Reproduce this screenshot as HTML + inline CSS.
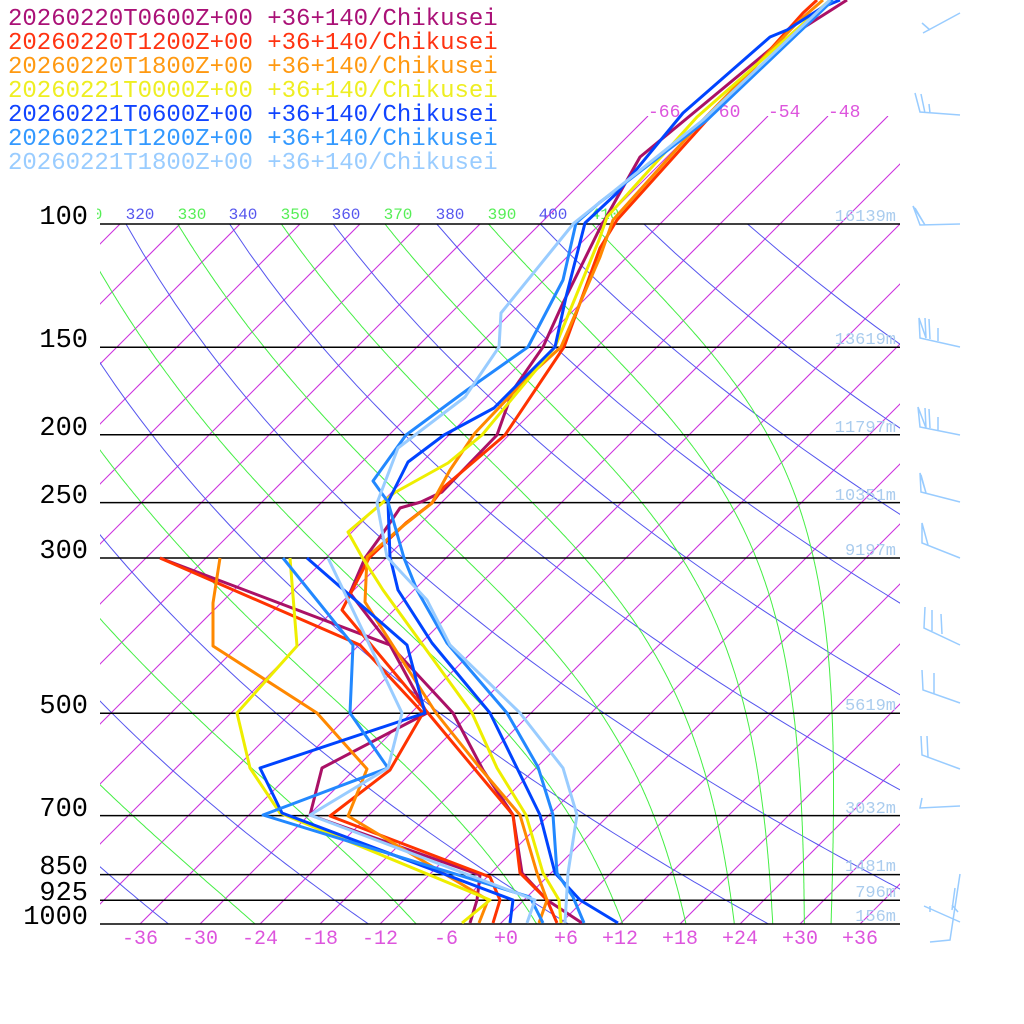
<!DOCTYPE html>
<html><head><meta charset="utf-8">
<style>
html,body{margin:0;padding:0;background:#fff;}
svg{display:block;}
text{font-family:"Liberation Mono","DejaVu Sans Mono",monospace;}
</style></head>
<body>
<svg id="s" width="1024" height="1024" viewBox="0 0 1024 1024" xmlns="http://www.w3.org/2000/svg">
<defs>
<clipPath id="cpl"><rect x="100" y="224" width="800" height="700"/></clipPath>
<clipPath id="cpi"><rect x="100" y="116" width="800" height="808"/></clipPath>
<clipPath id="cplab"><rect x="97" y="190" width="803" height="34"/></clipPath>
</defs>
<g id="grid"></g>
<g font-size="17" fill="#aaccee" text-anchor="end">
<text x="896" y="221">16139m</text>
<text x="896" y="344">13619m</text>
<text x="896" y="432">11797m</text>
<text x="896" y="500">10351m</text>
<text x="896" y="555">9197m</text>
<text x="896" y="710">5619m</text>
<text x="896" y="813">3032m</text>
<text x="896" y="871">1481m</text>
<text x="896" y="897">796m</text>
<text x="896" y="921">156m</text>
</g>
<g id="plines" stroke="#000" stroke-width="1.5"></g>
<g font-size="27" fill="#000" text-anchor="end">
<text x="88" y="224">100</text>
<text x="88" y="347">150</text>
<text x="88" y="435">200</text>
<text x="88" y="503">250</text>
<text x="88" y="558">300</text>
<text x="88" y="713">500</text>
<text x="88" y="816">700</text>
<text x="88" y="874">850</text>
<text x="88" y="900">925</text>
<text x="88" y="924">1000</text>
</g>
<g font-size="20" fill="#dd55dd" text-anchor="end">
<text x="158" y="944">-36</text><text x="218" y="944">-30</text><text x="278" y="944">-24</text>
<text x="338" y="944">-18</text><text x="398" y="944">-12</text><text x="458" y="944">-6</text>
<text x="518" y="944">+0</text><text x="578" y="944">+6</text><text x="638" y="944">+12</text>
<text x="698" y="944">+18</text><text x="758" y="944">+24</text><text x="818" y="944">+30</text>
<text x="878" y="944">+36</text>
</g>
<g font-size="18" fill="#dd55dd">
<text x="648" y="117">-66</text><text x="708" y="117">-60</text><text x="768" y="117">-54</text><text x="828" y="117">-48</text>
</g>
<g font-size="16" text-anchor="middle" clip-path="url(#cplab)">
<text x="88" y="219" fill="#55ee55">310</text>
<text x="140" y="219" fill="#5555ee">320</text>
<text x="192" y="219" fill="#55ee55">330</text>
<text x="243" y="219" fill="#5555ee">340</text>
<text x="295" y="219" fill="#55ee55">350</text>
<text x="346" y="219" fill="#5555ee">360</text>
<text x="398" y="219" fill="#55ee55">370</text>
<text x="450" y="219" fill="#5555ee">380</text>
<text x="502" y="219" fill="#55ee55">390</text>
<text x="553" y="219" fill="#5555ee">400</text>
<text x="605" y="219" fill="#55ee55">410</text>
</g>
<g id="series" fill="none" stroke-width="3" stroke-linejoin="round"></g>
<g stroke="#99ccff" stroke-width="1.5" fill="none">
<path d="M960,13 L923,33 M922,23 L930,30"/>
<path d="M960,115 L920,112 L915,93 M925,113 L921,94 M930,113 L929,104"/>
<path d="M960,224 L920,225 L913,206 L925,225 M925,225 L915,208"/>
<path d="M960,347 L920,338 L919,318 L926,338 L925,318 M930,339 L929,319 M938,341 L938,328"/>
<path d="M960,435 L920,427 L918,407 L926,428 L925,408 M930,428 L929,409 M938,430 L938,417"/>
<path d="M960,502 L921,492 L920,473 L926,493 M926,493 L921,475"/>
<path d="M960,558 L922,543 L922,523 L928,545"/>
<path d="M960,645 L924,628 L925,607 M932,631 L932,610 M942,634 L941,614"/>
<path d="M960,703 L923,690 L922,670 M934,694 L934,673"/>
<path d="M960,769 L922,755 L921,736 M928,757 L927,736"/>
<path d="M960,806 L920,808 L922,798"/>
<path d="M960,874 L950,940 L930,942 M924,906 L960,922 M930,906 L930,912 M955,888 L952,910 M952,905 L958,912"/>
</g>
<g font-size="24">
<text x="8" y="25" fill="#aa1177">20260220T0600Z+00 +36+140/Chikusei</text>
<text x="8" y="49" fill="#ff3311">20260220T1200Z+00 +36+140/Chikusei</text>
<text x="8" y="73" fill="#ff9911">20260220T1800Z+00 +36+140/Chikusei</text>
<text x="8" y="97" fill="#eeee22">20260221T0000Z+00 +36+140/Chikusei</text>
<text x="8" y="121" fill="#1144ff">20260221T0600Z+00 +36+140/Chikusei</text>
<text x="8" y="145" fill="#3399ff">20260221T1200Z+00 +36+140/Chikusei</text>
<text x="8" y="169" fill="#99ccff">20260221T1800Z+00 +36+140/Chikusei</text>
</g>
</svg>
<script>
(function(){
var NS="http://www.w3.org/2000/svg";
function Y(p){return 924-304*Math.log(1000/p);}
function X(T,p){return 500+10*T+(924-Y(p));}
function el(parent,name,attrs){var e=document.createElementNS(NS,name);for(var k in attrs)e.setAttribute(k,attrs[k]);parent.appendChild(e);return e;}
var grid=document.getElementById('grid');
var gi=el(grid,'g',{stroke:'#cc33dd','stroke-width':'1.1',fill:'none'});
for(var T=-150;T<=60;T+=6){
  var yTop=(T>=-66)?116:224;
  var x1=500+10*T, y1=924, x2=x1+(924-yTop), y2=yTop;
  el(gi,'line',{x1:x1,y1:y1,x2:x2,y2:y2,'clip-path':'url(#cpi)'});
}
var gd=el(grid,'g',{stroke:'#5555ee','stroke-width':'1',fill:'none','clip-path':'url(#cpl)'});
for(var th=200;th<=440;th+=20){
  var pts=[];for(var p=100;p<=1000.01;p+=10){var t=th*Math.pow(p/1000,0.2857)-273.15;pts.push(X(t,p).toFixed(1)+','+Y(p).toFixed(1));}
  el(gd,'polyline',{points:pts.join(' ')});
}
var gm=el(grid,'g',{stroke:'#44ee44','stroke-width':'1',fill:'none','clip-path':'url(#cpl)'});
function es(tc){return 6.112*Math.exp(17.67*tc/(tc+243.5));}
for(var th=230;th<=410;th+=20){
  var lp=Math.log(100), T=th*Math.pow(0.1,0.2857), pts=[];
  var step=0.005;
  while(true){
    var p=Math.exp(lp);
    pts.push(X(T-273.15,p).toFixed(1)+','+Y(p).toFixed(1));
    if(p>=999.9)break;
    var e=es(T-273.15), rs=0.622*e/(p-e);
    var d=(287*T+2.5e6*rs)/(1004+2.5e6*2.5e6*rs*0.622/(287*T*T));
    var nl=Math.min(lp+step,Math.log(1000));
    T+=d*(nl-lp);lp=nl;
  }
  el(gm,'polyline',{points:pts.join(' ')});
}
var pl=document.getElementById('plines');
[100,150,200,250,300,500,700,850,925,1000].forEach(function(p){var y=Y(p).toFixed(1);el(pl,'line',{x1:100,y1:y,x2:900,y2:y});});
var S=[
['#aa1166',"847,0 773,47 697,110 640,157 599,230 563,303 543,347 513,390 497,435 442,492 421,502 400,508 383,533 365,558 350,593 390,645 453,713 483,770 513,815 522,873 547,900 582,923",
 "160,558 390,645 427,713 322,768 310,815 480,875 477,900 470,923"],
['#ff3300',"817,0 803,13 707,120 617,220 600,248 564,347 505,435 444,487 432,503 406,523 369,558 342,610 428,713 473,767 513,815 520,873 547,900 557,923",
 "160,558 360,645 423,713 390,770 330,816 490,877 500,900 493,923"],
['#ff8800',"823,0 800,20 700,123 613,220 600,257 561,347 528,377 475,433 450,470 432,503 398,530 367,557 365,602 436,713 480,768 520,815 537,873 547,900 539,923",
 "220,558 213,603 213,646 317,713 367,769 348,816 488,900 479,923"],
['#eeee00',"830,0 697,117 607,217 599,240 555,347 482,435 448,463 394,493 348,532 362,557 383,590 472,713 497,768 526,815 543,873 559,900 561,923",
 "290,558 297,646 237,713 250,768 280,813 490,900 462,923"],
['#0044ff',"840,0 823,7 787,30 770,37 683,113 617,193 585,223 566,297 555,347 494,408 444,435 408,462 388,502 390,557 398,590 432,643 490,713 517,768 540,815 555,873 580,900 618,923",
 "307,558 407,645 425,713 260,768 282,813 513,900 510,923"],
['#2288ff',"833,0 707,120 599,203 576,223 563,280 528,347 467,390 406,435 373,481 388,502 404,558 417,590 447,643 507,713 538,767 553,815 557,873 573,897 584,923",
 "283,558 353,645 350,713 388,768 263,815 530,897 543,923"],
['#99ccff',"830,0 703,120 599,203 574,223 501,313 499,347 465,397 398,448 377,503 387,557 427,600 450,645 520,713 563,768 577,815 568,873 565,923",
 "328,558 402,713 388,768 310,815 535,900 527,923"]
];
var gs=document.getElementById('series');
S.forEach(function(s){el(gs,'polyline',{points:s[1],stroke:s[0]});el(gs,'polyline',{points:s[2],stroke:s[0]});});
})();
</script>
</body></html>
